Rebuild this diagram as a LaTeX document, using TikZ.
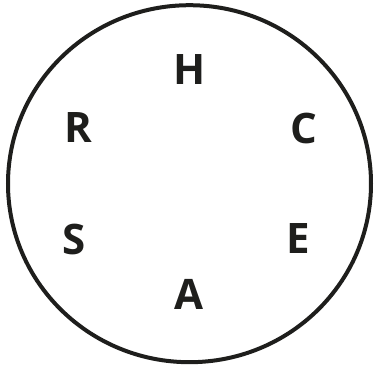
\documentclass[tikz,border=0pt]{standalone}
\usepackage{fontspec}
\setmainfont{Open Sans}
\definecolor{ink}{HTML}{1E1E1C}
\begin{document}
\begin{tikzpicture}[x=1bp,y=-1bp,
  lbl/.style={text=ink,font=\fontsize{42bp}{42bp}\selectfont\bfseries,inner sep=0pt,anchor=center}]
\useasboundingbox (0,0) rectangle (375,368);
\draw[ink,line width=4bp] (189.5,183.7) ellipse [x radius=181.5, y radius=178.5];
\node[lbl] (H) at (190,70) {\vphantom{H}H};
\node[lbl] (C) at (304,128) {C};
\node[lbl] (R) at (78,128) {R};
\node[lbl] (S) at (74,239) {S};
\node[lbl] (E) at (298,239) {E};
\node[lbl] (A) at (189,294) {A};
\end{tikzpicture}
\end{document}
